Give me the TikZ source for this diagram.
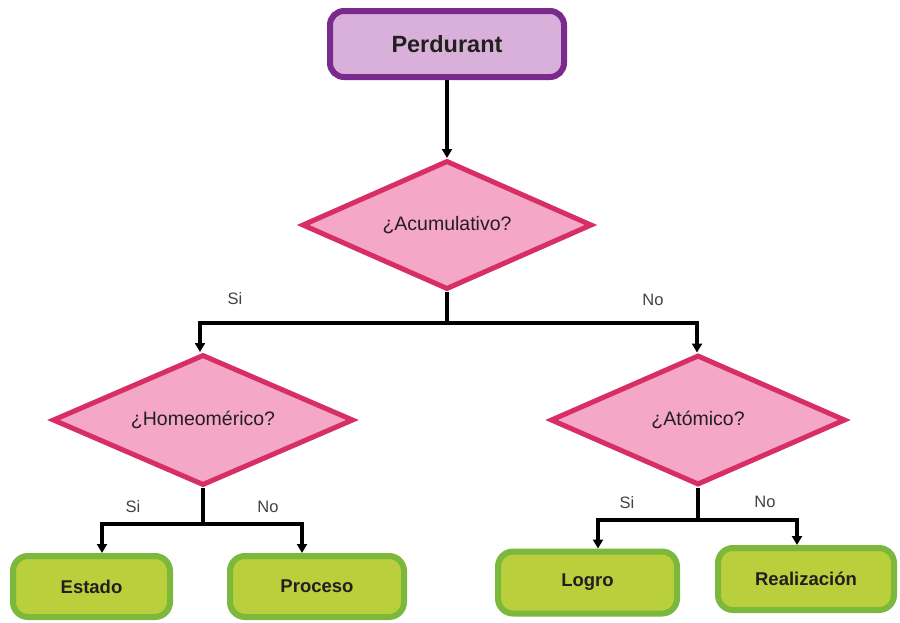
\documentclass[tikz,border=0pt]{standalone}
\usepackage{fontspec}
\setmainfont{Liberation Sans}
\usetikzlibrary{shapes.geometric,arrows.meta}
\definecolor{pfill}{HTML}{D9B0DA}
\definecolor{pdraw}{HTML}{7A2A8C}
\definecolor{dfill}{HTML}{F4A7C7}
\definecolor{ddraw}{HTML}{D82E66}
\definecolor{lfill}{HTML}{B9CF3C}
\definecolor{ldraw}{HTML}{7CB83B}
\definecolor{txt}{HTML}{231F20}
\tikzset{
  topbox/.style={draw=pdraw, fill=pfill, line width=6pt, rounded corners=14pt,
    minimum width=234pt, minimum height=66pt, font=\fontsize{23.5}{25}\selectfont\bfseries, text=txt},
  decision/.style={diamond, aspect=2.25, draw=ddraw, fill=dfill, line width=5pt, inner sep=0pt,
    font=\fontsize{19.5}{21}\selectfont, text=txt},
  leaf/.style={draw=ldraw, fill=lfill, line width=6pt, rounded corners=15pt,
    font=\fontsize{18.5}{20}\selectfont\bfseries, text=txt},
  conn/.style={line width=3.5pt, black},
  arr/.style={conn, -{Triangle[length=9pt,width=10pt]}},
  lab/.style={font=\fontsize{16.5}{18}\selectfont, text=txt!85}
}
\begin{document}
\begin{tikzpicture}[x=1pt,y=-1pt]
\useasboundingbox (0,0) rectangle (900,622);
\fill[white] (0,0) rectangle (900,622);

\node[topbox] (perd) at (447,44) {Perdurant};

\node[decision, minimum width=290pt, minimum height=129pt] (acum) at (447,225) {¿Acumulativo?};
\node[decision, minimum width=301pt, minimum height=131pt] (homeo) at (203,420) {¿Homeomérico?};
\node[decision, minimum width=295pt, minimum height=130pt] (atom) at (698,420) {¿Atómico?};

\node[leaf, minimum width=157pt, minimum height=61pt] (estado) at (91.5,586.5) {Estado};
\node[leaf, minimum width=174pt, minimum height=61pt] (proceso) at (317,586.5) {Proceso};
\node[leaf, minimum width=179pt, minimum height=62pt] (logro) at (587.5,582.5) {Logro};
\node[leaf, minimum width=176pt, minimum height=62pt] (realiz) at (806,579) {Realización};

% top connector
\draw[arr] (perd.south) -- (acum.north);

% first branch
\coordinate (y1) at (0,323);
\coordinate (xl1) at (200,0);
\coordinate (xr1) at (697,0);
\coordinate (j1) at (acum.south |- y1);
\draw[conn] (acum.south) -- (j1);
\draw[arr] (j1) -| (xl1 |- homeo.north);
\draw[arr] (j1) -| (xr1 |- atom.north);
\node[lab] (si1) at (235,299) {Si};
\node[lab] (no1) at (653,300) {No};

% left branch
\coordinate (y2) at (0,524);
\coordinate (xl2) at (102,0);
\coordinate (xr2) at (302,0);
\coordinate (j2) at (homeo.south |- y2);
\draw[conn] (homeo.south) -- (j2);
\draw[arr] (j2) -| (xl2 |- estado.north);
\draw[arr] (j2) -| (xr2 |- proceso.north);
\node[lab] (si2) at (133,507) {Si};
\node[lab] (no2) at (268,507) {No};

% right branch
\coordinate (y3) at (0,520);
\coordinate (xl3) at (598,0);
\coordinate (xr3) at (797,0);
\coordinate (j3) at (atom.south |- y3);
\draw[conn] (atom.south) -- (j3);
\draw[arr] (j3) -| (xl3 |- logro.north);
\draw[arr] (j3) -| (xr3 |- realiz.north);
\node[lab] (si3) at (627,503) {Si};
\node[lab] (no3) at (765,502) {No};
\end{tikzpicture}
\end{document}
